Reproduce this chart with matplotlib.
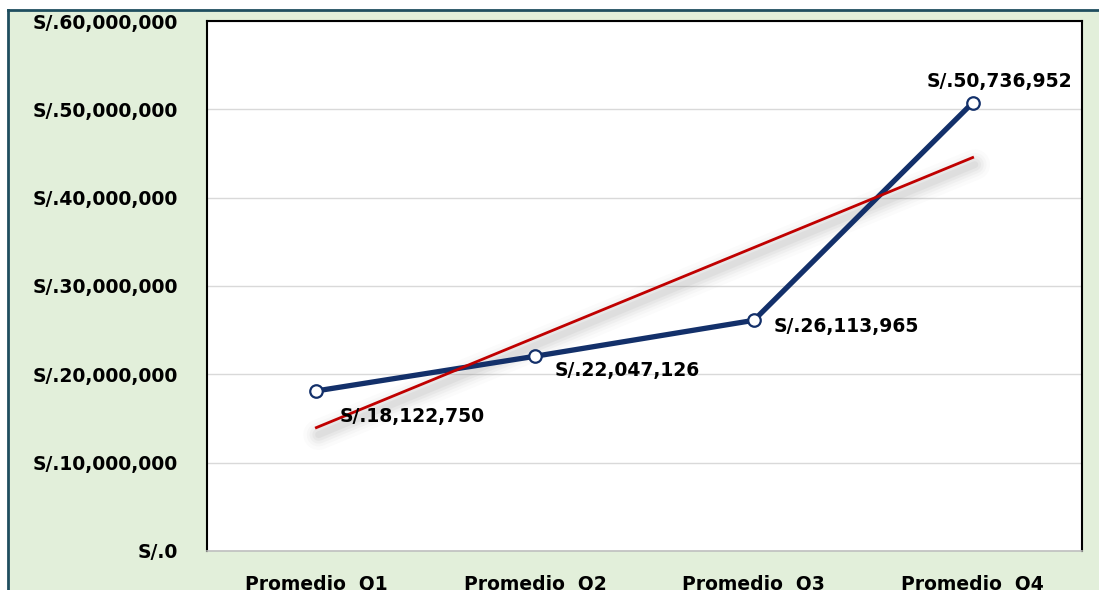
import numpy as np
import matplotlib
matplotlib.use('Agg')
import matplotlib.pyplot as plt
from matplotlib.patches import Rectangle
from matplotlib.lines import Line2D
from matplotlib.ticker import FuncFormatter

categorias = ['Promedio  Q1', 'Promedio  Q2', 'Promedio  Q3', 'Promedio  Q4']
valores = [18122750, 22047126, 26113965, 50736952]
yticks = [0, 10e6, 20e6, 30e6, 40e6, 50e6, 60e6]

navy = '#13306A'
red = '#C00000'
green_bg = '#E2EFDA'

plt.rcParams['font.family'] = 'DejaVu Sans'
fs = 13.5

fig = plt.figure(figsize=(10.99, 5.90), dpi=100)
fig.patch.set_facecolor('white')

# green panel with dark border on top/left
x0 = 8/1099
y1 = 1 - 10/590
fig.patches.append(Rectangle((x0, -0.5), 2, y1 + 0.5, transform=fig.transFigure,
                             facecolor=green_bg, edgecolor='none', zorder=0))
fig.lines.append(Line2D([x0, 1.0], [y1, y1], transform=fig.transFigure,
                        color='#1F4E5F', lw=2, zorder=0.5))
fig.lines.append(Line2D([x0, x0], [0, y1], transform=fig.transFigure,
                        color='#1F4E5F', lw=2, zorder=0.5))

ax = fig.add_axes([207/1099, 39/590, 875/1099, 530/590])
ax.set_zorder(2)
ax.set_facecolor('white')

x = np.arange(len(valores))

# trendline (linear fit) with soft shadow
m, b = np.polyfit(x, valores, 1)
tx = np.array([0, 3])
ty = m*tx + b
for w, a in [(22, 0.03), (17, 0.04), (13, 0.05), (9, 0.065), (5, 0.08)]:
    ax.plot(tx + 0.01, ty - 0.8e6, color='gray', lw=w, alpha=a,
            solid_capstyle='round', zorder=2)
ax.plot(tx, ty, color=red, lw=2.0, zorder=4)

ax.plot(x, valores, color=navy, lw=3.8, marker='o', markersize=9,
        markerfacecolor='white', markeredgecolor=navy, markeredgewidth=1.6,
        zorder=3)

fmt = lambda v: 'S/.{:,.0f}'.format(v)
# data labels
ax.annotate(fmt(valores[0]), (x[0], valores[0]), xytext=(96, -26),
            textcoords='offset pixels', ha='center', va='center',
            fontsize=fs, fontweight='bold', zorder=5)
ax.annotate(fmt(valores[1]), (x[1], valores[1]), xytext=(20, -14),
            textcoords='offset pixels', ha='left', va='center',
            fontsize=fs, fontweight='bold', zorder=5)
ax.annotate(fmt(valores[2]), (x[2], valores[2]), xytext=(20, -6),
            textcoords='offset pixels', ha='left', va='center',
            fontsize=fs, fontweight='bold', zorder=5)
ax.annotate(fmt(valores[3]), (x[3], valores[3]), xytext=(27, 21),
            textcoords='offset pixels', ha='center', va='center',
            fontsize=fs, fontweight='bold', zorder=5)

ax.set_xlim(-0.5, 3.5)
ax.set_ylim(0, 60e6)
ax.set_yticks(yticks)
ax.yaxis.set_major_formatter(FuncFormatter(lambda v, p: 'S/.{:,.0f}'.format(v)))
ax.set_xticks(x)
ax.set_xticklabels(categorias)
ax.grid(axis='y', color='#D9D9D9', lw=1)
ax.set_axisbelow(True)
ax.tick_params(axis='both', length=0, labelsize=fs)
ax.tick_params(axis='y', pad=21)
ax.tick_params(axis='x', pad=17)
for lbl in ax.get_xticklabels() + ax.get_yticklabels():
    lbl.set_fontweight('bold')

for s in ['left', 'top', 'right']:
    ax.spines[s].set_color('black')
    ax.spines[s].set_linewidth(1.5)
ax.spines['bottom'].set_color('#BFBFBF')
ax.spines['bottom'].set_linewidth(1.2)

fig.savefig('out.png', dpi=100, facecolor=fig.get_facecolor())
